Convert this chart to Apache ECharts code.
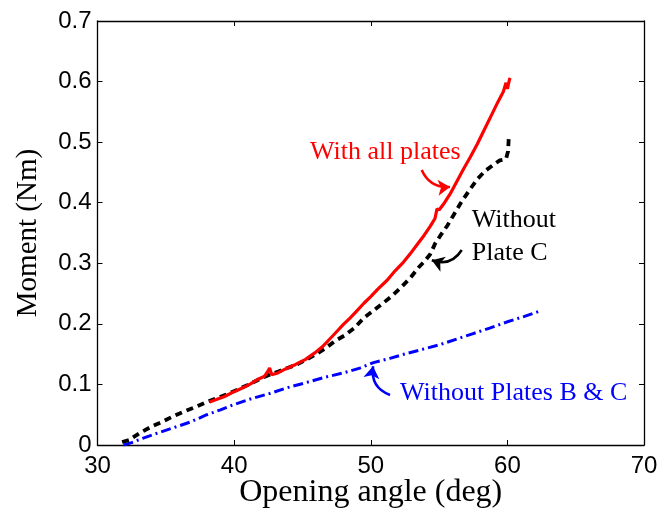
<!DOCTYPE html>
<html><head><meta charset="utf-8">
<script src="https://cdn.jsdelivr.net/npm/echarts@6/dist/echarts.min.js"></script>
<style>html,body{margin:0;padding:0;background:#fff}#c{width:660px;height:512px}</style>
</head><body><div id="c"></div>
<script>
var xTicks = [30, 40, 50, 60, 70];
var yTicks = [0, 0.1, 0.2, 0.3, 0.4, 0.5, 0.6, 0.7];

var allPlates = [
[38.2,0.071],[38.7,0.075],[39.3,0.080],[40.0,0.088],[40.6,0.094],[41.2,0.101],[41.7,0.108],
[42.2,0.113],[42.45,0.121],[42.6,0.127],[42.75,0.116],[43.2,0.119],[43.8,0.126],[44.5,0.133],
[45.2,0.141],[45.9,0.152],[46.5,0.163],[47.0,0.175],[47.5,0.187],[48.0,0.199],[48.5,0.210],
[49.0,0.222],[49.5,0.234],[50.0,0.245],[50.5,0.257],[51.2,0.272],[51.8,0.288],[52.4,0.302],
[52.9,0.316],[53.4,0.331],[53.9,0.346],[54.35,0.361],[54.7,0.374],[54.85,0.390],[55.0,0.388],
[55.4,0.400],[55.8,0.414],[56.3,0.435],[56.8,0.456],[57.3,0.476],[57.8,0.497],[58.3,0.520],
[58.8,0.543],[59.3,0.566],[59.7,0.583],[59.9,0.598],[60.0,0.588],[60.15,0.603],[60.2,0.606]
];
var withoutC = [
[31.8,0.005],[32.3,0.008],[33.1,0.020],[34.0,0.031],[34.8,0.039],[35.6,0.048],[36.4,0.056],
[37.2,0.063],[38.0,0.071],[38.8,0.078],[39.5,0.084],[40.2,0.091],[41.0,0.099],[41.7,0.107],
[42.5,0.115],[43.2,0.121],[43.9,0.127],[44.6,0.133],[45.3,0.141],[46.0,0.150],[46.7,0.160],
[47.4,0.172],[48.1,0.181],[48.8,0.193],[49.5,0.210],[50.2,0.222],[51.0,0.236],[51.6,0.247],
[52.3,0.262],[52.9,0.276],[53.5,0.293],[54.0,0.305],[54.35,0.315],[54.5,0.322],[54.7,0.332],
[55.1,0.346],[55.6,0.362],[56.1,0.381],[56.6,0.400],[57.2,0.420],[57.8,0.439],[58.4,0.453],
[59.0,0.463],[59.45,0.470],[59.9,0.472],[60.05,0.485],[60.1,0.507]
];
var withoutBC = [
[31.9,0.000],[32.5,0.004],[33.3,0.011],[34.3,0.019],[35.5,0.028],[36.8,0.038],[38.0,0.050],
[39.0,0.058],[39.9,0.066],[41.2,0.076],[42.6,0.085],[43.8,0.094],[45.1,0.102],[46.5,0.111],
[48.0,0.119],[49.2,0.127],[50.2,0.136],[51.4,0.143],[52.6,0.151],[53.8,0.158],[55.1,0.166],
[56.3,0.175],[57.5,0.184],[58.7,0.193],[59.95,0.203],[61.2,0.212],[62.5,0.222]
];

var labels = [
  {text:'With all plates', at:[45.56,0.484], color:'#ff0000'},
  {text:'Without', at:[57.39,0.3715], color:'#000000'},
  {text:'Plate C', at:[57.39,0.3165], color:'#000000'},
  {text:'Without Plates B & C', at:[52.15,0.0859], color:'#0000ff'}
];
var arrows = [
  {from:[53.73,0.454], to:[55.8,0.426], color:'#ff0000', curv:-0.35},
  {from:[56.66,0.322], to:[54.47,0.305], color:'#000000', curv:0.4},
  {from:[51.41,0.0826], to:[50.17,0.130], color:'#0000ff', curv:0.4}
];

var serif = '"Liberation Serif", "Times New Roman", serif';
var sans = '"Liberation Sans", Arial, sans-serif';
var chart = echarts.init(document.getElementById('c'), null, {renderer:'canvas'});
var axBase = {
  type:'value', axisLine:{show:true, onZero:false, lineStyle:{color:'#000', width:1.3}},
  axisTick:{show:true, inside:true, length:5, lineStyle:{color:'#000', width:1}},
  splitLine:{show:false}
};
var option = {
  animation:false,
  backgroundColor:'#fff',
  grid:{left:97.5, right:16, top:21, bottom:67, containLabel:false, outerBoundsMode:'none'},
  xAxis:[
    Object.assign({}, axBase, {min:xTicks[0], max:xTicks[xTicks.length-1], interval:10, position:'bottom',
      name:'Opening angle (deg)', nameLocation:'middle', nameGap:48, nameMoveOverlap:false,
      nameTextStyle:{fontFamily:serif, fontSize:32, color:'#000', verticalAlign:'middle'},
      axisLabel:{fontFamily:sans, fontSize:24, color:'#000', margin:9}}),
    Object.assign({}, axBase, {min:xTicks[0], max:xTicks[xTicks.length-1], interval:10, position:'top',
      axisLabel:{show:false}})
  ],
  yAxis:[
    Object.assign({}, axBase, {min:yTicks[0], max:yTicks[yTicks.length-1], interval:0.1, position:'left',
      name:'Moment (Nm)', nameLocation:'middle', nameGap:69, nameMoveOverlap:false,
      nameTextStyle:{fontFamily:serif, fontSize:29, color:'#000', verticalAlign:'middle'},
      axisLabel:{fontFamily:sans, fontSize:24, color:'#000', margin:6,
        formatter:function(v){return String(Math.round(v*10)/10);}}}),
    Object.assign({}, axBase, {min:yTicks[0], max:yTicks[yTicks.length-1], interval:0.1, position:'right',
      axisLabel:{show:false}})
  ],
  series:[
    {type:'line', data:withoutBC, showSymbol:false, symbol:'none',
      lineStyle:{color:'#0000ff', width:3, type:[10,4,2,4]}},
    {type:'line', data:withoutC, showSymbol:false, symbol:'none',
      lineStyle:{color:'#000000', width:3.8, type:[7,5]}},
    {type:'line', data:allPlates, showSymbol:false, symbol:'none',
      lineStyle:{color:'#ff0000', width:3.2}},
    {type:'lines', coordinateSystem:'cartesian2d', symbol:['none','arrow'], symbolSize:[0,12],
      data:arrows.map(function(a){return {coords:[a.from,a.to], lineStyle:{color:a.color, curveness:a.curv, width:2.6, opacity:1}};}),
      lineStyle:{opacity:1}, silent:true}
  ]
};
chart.setOption(option);
var g = labels.map(function(l){
  var p = chart.convertToPixel({gridIndex:0}, l.at);
  return {type:'text', x:p[0], y:p[1], style:{text:l.text, fill:l.color, font:'26px '+serif, textAlign:'left', textVerticalAlign:'middle'}};
});
chart.setOption({graphic:g});
</script>
</body></html>
